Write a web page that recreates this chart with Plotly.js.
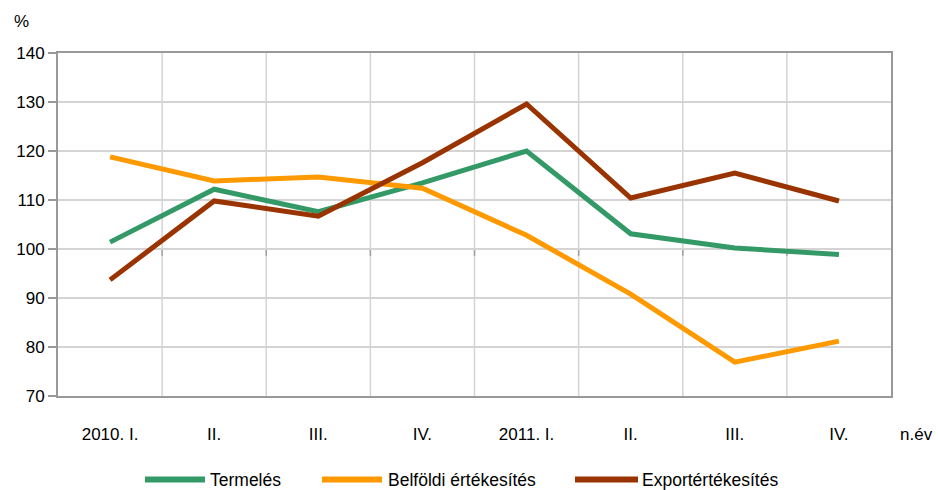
<!DOCTYPE html>
<html>
<head>
<meta charset="utf-8">
<script src="https://cdn.plot.ly/plotly-3.0.1.min.js"></script>
<style>
html,body{margin:0;padding:0;background:#fff;}
#chart{width:938px;height:490px;}
</style>
</head>
<body>
<div id="chart"></div>
<script>
const categories = ["2010. I.", "II.", "III.", "IV.", "2011. I.", "II.", "III.", "IV."];
const seriesNames = ["Termelés", "Belföldi értékesítés", "Exportértékesítés"];
const termeles = [101.4, 112.2, 107.6, 113.5, 120.0, 103.1, 100.2, 98.9];
const belfoldi = [118.8, 113.9, 114.7, 112.4, 102.8, 90.8, 76.9, 81.2];
const export_ = [93.7, 109.8, 106.7, 117.6, 129.6, 110.4, 115.5, 109.8];
const yTicks = [70, 80, 90, 100, 110, 120, 130, 140];
const colors = ["#339966", "#ff9900", "#993300"];

const FONT = "Liberation Sans, Arial, sans-serif";
const FS = 17;
const FSL = 17.5;
const xIdx = categories.map((c, i) => i);
const allSeries = [termeles, belfoldi, export_];

const traces = allSeries.map((vals, k) => ({
  type: "scatter", mode: "lines",
  x: xIdx, y: vals, name: seriesNames[k],
  line: {color: colors[k], width: 5},
  hoverinfo: "skip", showlegend: false
}));

const shapes = [];
// vertical gridlines at category boundaries
for (let i = 0; i < categories.length - 1; i++) {
  shapes.push({type: "line", xref: "x", yref: "paper", x0: i + 0.5, x1: i + 0.5, y0: 0, y1: 1,
    line: {color: "#d4d4d4", width: 1.5}, layer: "below"});
}
// axis line crossing at 100 with category tick marks
shapes.push({type: "line", xref: "paper", yref: "y", x0: 0, x1: 1, y0: 100, y1: 100,
  line: {color: "#a0a0a0", width: 1.5}, layer: "below"});
for (let i = 0; i < categories.length - 1; i++) {
  shapes.push({type: "line", xref: "x", yref: "y", x0: i + 0.5, x1: i + 0.5, y0: 100, y1: 98.6,
    line: {color: "#a0a0a0", width: 1.5}, layer: "below"});
}

// custom legend
const legendPos = [[145, 205, 208], [322, 382, 386], [575, 638, 640]];
const annotations = [];
const px = v => (v - 58) / 833;
const legY = (396.5 - 480) / 343;
legendPos.forEach((p, k) => {
  shapes.push({type: "line", xref: "paper", yref: "paper", x0: px(p[0]), x1: px(p[1]), y0: legY, y1: legY,
    line: {color: colors[k], width: 6}});
  annotations.push({xref: "paper", yref: "paper", x: px(p[2]), y: legY, xanchor: "left", yanchor: "middle",
    text: seriesNames[k], showarrow: false, font: {family: FONT, size: FSL, color: "#000"}});
});

annotations.push({xref: "paper", yref: "paper", x: px(898), y: (396.5 - 435) / 343, xanchor: "left", yanchor: "middle",
  text: "n.év", showarrow: false, font: {family: FONT, size: FS, color: "#000"}});
annotations.push({xref: "paper", yref: "paper", x: px(12), y: (396.5 - 22) / 343, xanchor: "left", yanchor: "middle",
  text: "%", showarrow: false, font: {family: FONT, size: FS, color: "#000"}});

const layout = {
  width: 938, height: 490,
  margin: {l: 58, r: 47, t: 53, b: 93.5},
  paper_bgcolor: "#fff", plot_bgcolor: "#fff",
  showlegend: false,
  font: {family: FONT, size: FS, color: "#000"},
  xaxis: {
    range: [-0.5, 7.5], tickvals: xIdx, ticktext: categories,
    showgrid: false, zeroline: false,
    showline: true, mirror: true, linecolor: "#999999", linewidth: 2,
    ticks: "", ticklabelstandoff: 22,
    tickfont: {family: FONT, size: FS, color: "#000"}
  },
  yaxis: {
    range: [70, 140], tickvals: yTicks,
    showgrid: true, gridcolor: "#d4d4d4", gridwidth: 1.5, zeroline: false,
    showline: true, mirror: true, linecolor: "#999999", linewidth: 2,
    ticks: "outside", ticklen: 8, tickcolor: "#999999", tickwidth: 1.5,
    tickfont: {family: FONT, size: FS, color: "#000"}
  },
  shapes: shapes,
  annotations: annotations
};

Plotly.newPlot("chart", traces, layout, {staticPlot: true, displayModeBar: false});
</script>
</body>
</html>
